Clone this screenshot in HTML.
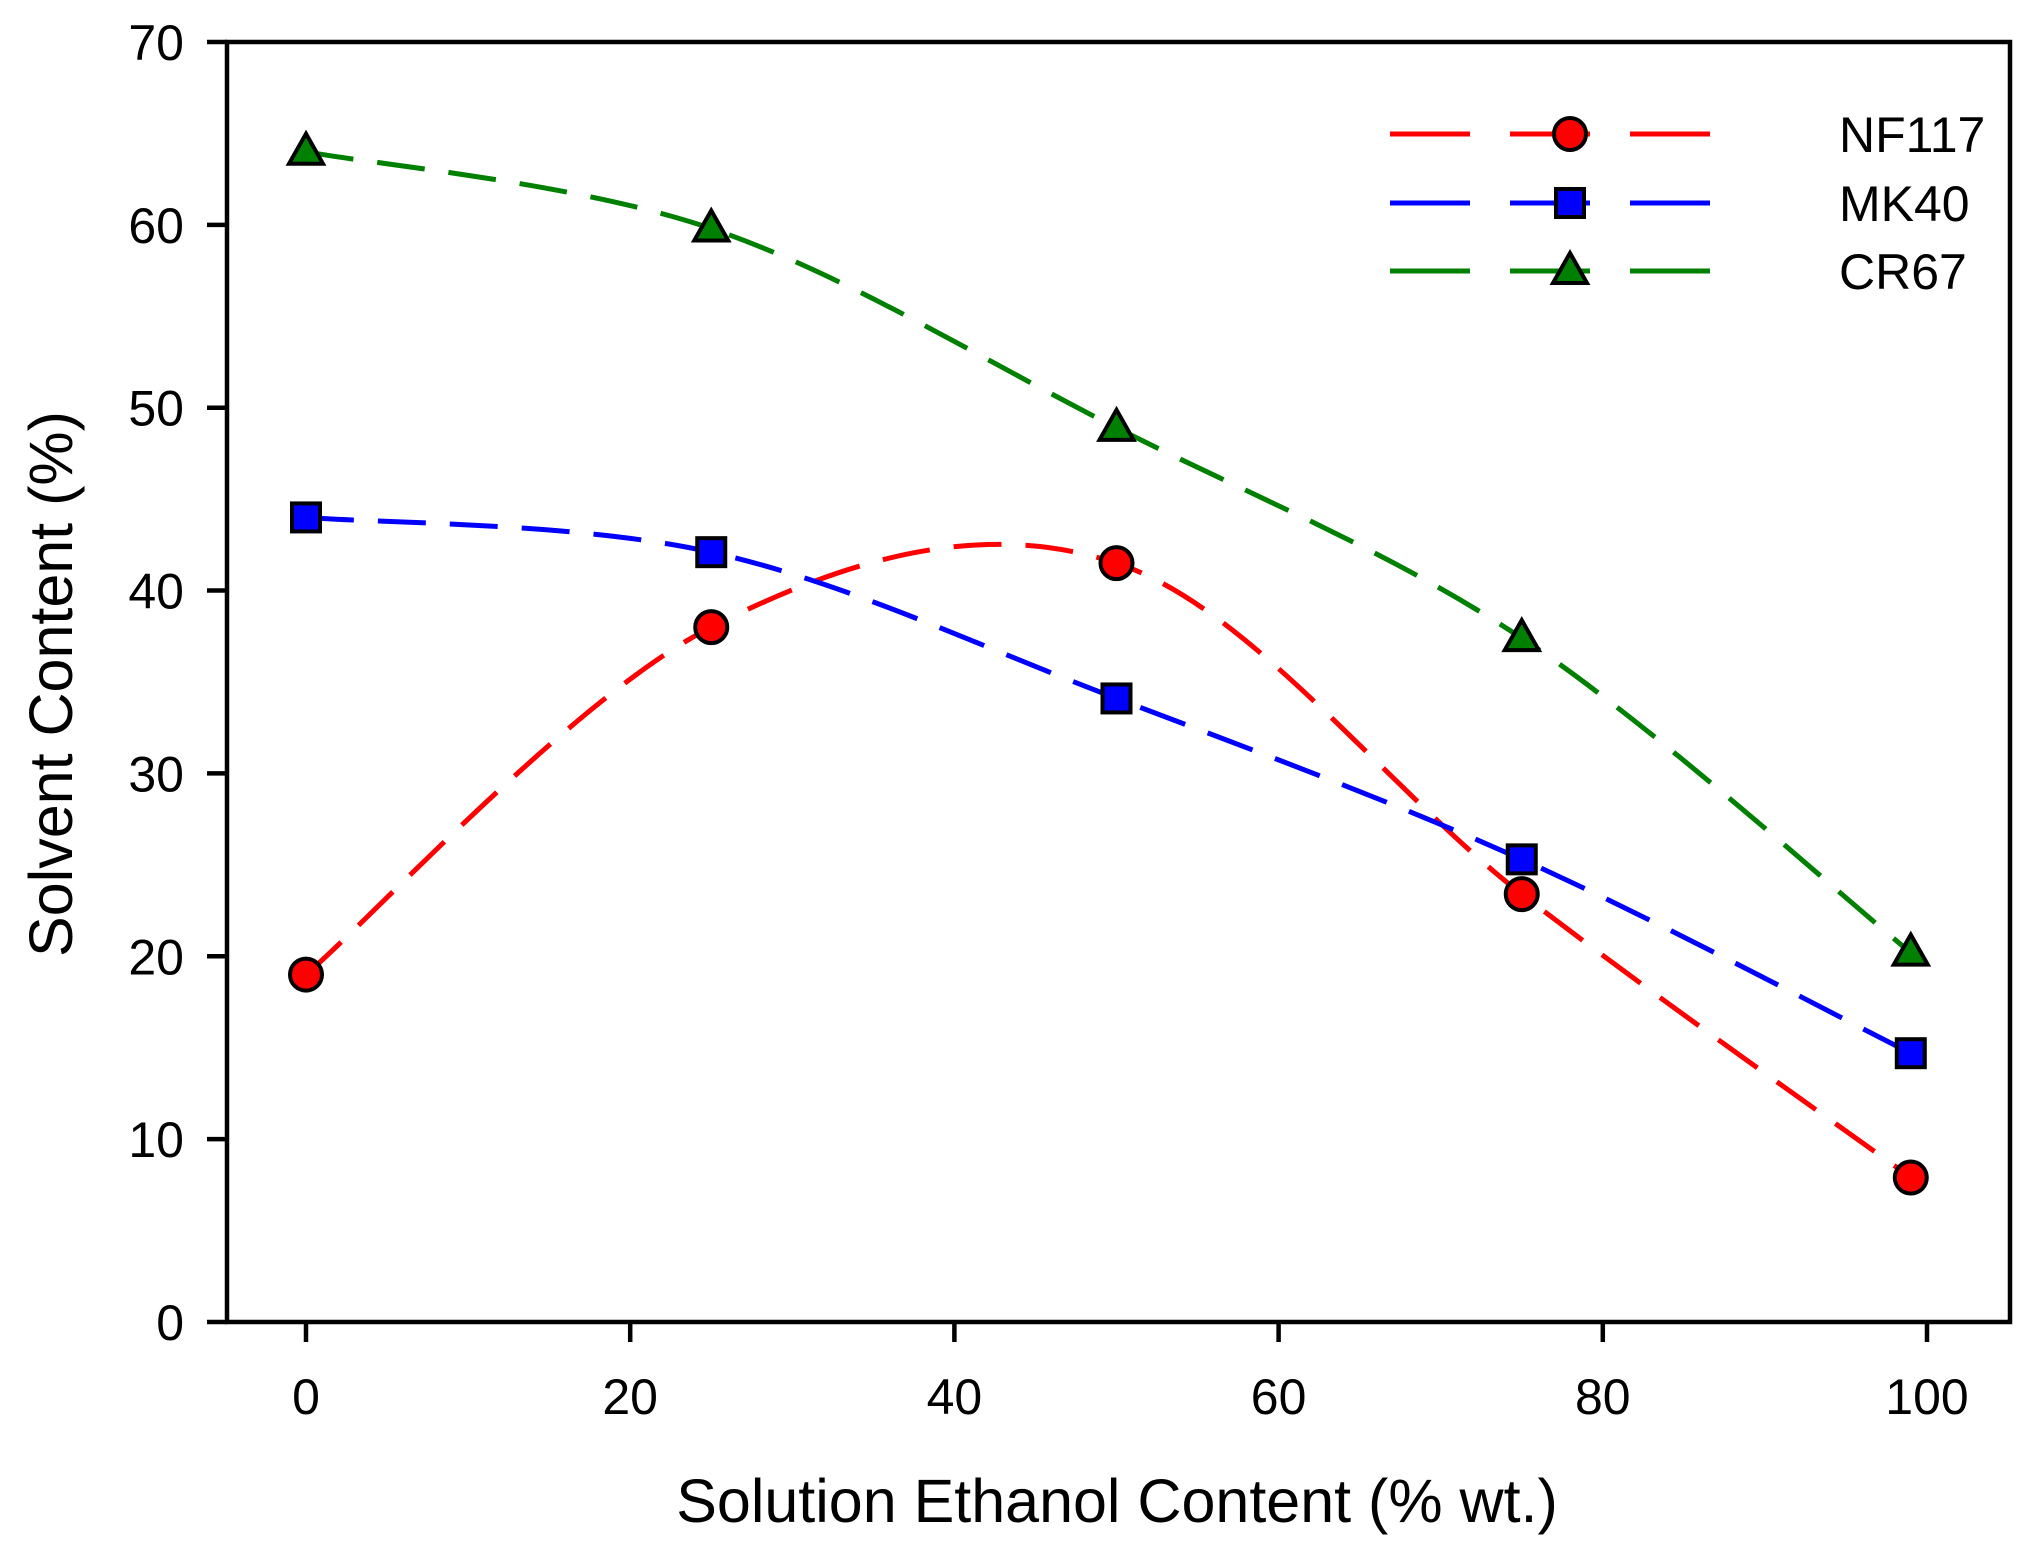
<!DOCTYPE html>
<html><head><meta charset="utf-8"><style>body{margin:0;background:#fff}svg{display:block}</style></head>
<body>
<svg id="s" width="2024" height="1551" xmlns="http://www.w3.org/2000/svg" font-family="Liberation Sans, Arial, sans-serif">
<rect width="2024" height="1551" fill="#fff"/>
<g id="curves"></g>
<rect x="227" y="42" width="1783" height="1280" fill="none" stroke="#000" stroke-width="4.5"/>
<g id="ticks" stroke="#000" stroke-width="4.5"></g>
<g id="labels" font-size="50" fill="#000"></g>
<text x="1117" y="1522" font-size="61" text-anchor="middle">Solution Ethanol Content (% wt.)</text>
<text transform="translate(72,684) rotate(-90)" font-size="61" text-anchor="middle">Solvent Content (%)</text>
<g id="markers"></g>
<g font-size="50">
<text x="1839" y="152">NF117</text>
<text x="1839" y="221">MK40</text>
<text x="1839" y="289">CR67</text>
</g>
</svg>
<script>
const NS="http://www.w3.org/2000/svg";
const X=v=>306+v*16.21, Y=v=>1322-v*18.286;
function el(p,t,a){const e=document.createElementNS(NS,t);for(const k in a)e.setAttribute(k,a[k]);document.getElementById(p).appendChild(e);return e;}
for(let v=0;v<=70;v+=10){el('ticks','line',{x1:207,x2:227,y1:Y(v),y2:Y(v)});const t=el('labels','text',{x:184,y:Y(v)+18,'text-anchor':'end'});t.textContent=v;}
for(let v=0;v<=100;v+=20){el('ticks','line',{x1:X(v),x2:X(v),y1:1322,y2:1342});const t=el('labels','text',{x:X(v),y:1414,'text-anchor':'middle'});t.textContent=v;}
const xs=[0,25,50,75,99];
const S=[{c:'#ff0000',d:[19,38,41.5,23.4,7.9],m:'c'},{c:'#0000ff',d:[44,42.1,34.1,25.3,14.7],m:'s'},{c:'#008000',d:[64,59.8,48.9,37.4,20.2],m:'t'}];
function path(pts){let d=`M${pts[0][0]},${pts[0][1]}`;for(let i=0;i<pts.length-1;i++){const p0=pts[i-1]||pts[i],p1=pts[i],p2=pts[i+1],p3=pts[i+2]||p2;const c1=[p1[0]+(p2[0]-p0[0])/6,p1[1]+(p2[1]-p0[1])/6],c2=[p2[0]-(p3[0]-p1[0])/6,p2[1]-(p3[1]-p1[1])/6];d+=` C${c1} ${c2} ${p2}`;}return d;}
function marker(m,x,y,c){if(m=='c')el('markers','circle',{cx:x,cy:y,r:16,fill:c,stroke:'#000','stroke-width':4});
else if(m=='s')el('markers','rect',{x:x-14,y:y-14,width:28,height:28,fill:c,stroke:'#000','stroke-width':4});
else el('markers','polygon',{points:`${x},${y-18} ${x-17},${y+12} ${x+17},${y+12}`,fill:c,stroke:'#000','stroke-width':4});}
const ly=[134,203,271];
S.forEach((s,i)=>{const pts=xs.map((x,j)=>[X(x),Y(s.d[j])]);
el('curves','path',{d:path(pts),fill:'none',stroke:s.c,'stroke-width':5,'stroke-dasharray':'48 24'});
pts.forEach(p=>marker(s.m,p[0],p[1],s.c));
el('curves','line',{x1:1390,x2:1714,y1:ly[i],y2:ly[i],stroke:s.c,'stroke-width':5,'stroke-dasharray':'80 40'});
marker(s.m,1570,ly[i],s.c);});
</script>
</body></html>
